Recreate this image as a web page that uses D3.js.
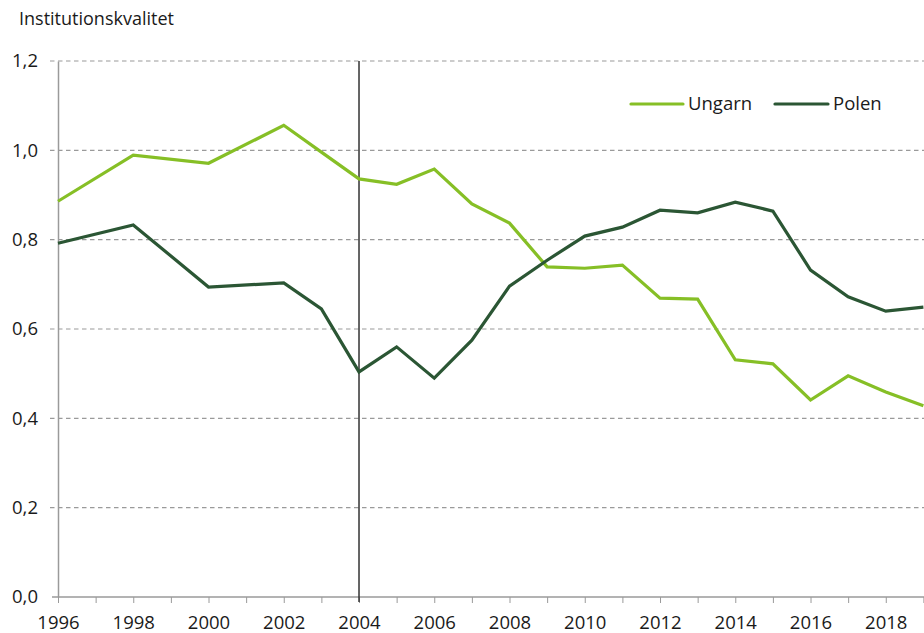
<!DOCTYPE html>
<html><head><meta charset="utf-8">
<script src="https://cdn.jsdelivr.net/npm/d3@7"></script>
<style>
body{margin:0;background:#fff;}
text{font-family:"Open Sans","Noto Sans",sans-serif;fill:#1a1a1a;}
</style></head>
<body><svg id="c" width="924" height="633"></svg>
<script>
const yearsUngarn = [1996,1998,2000,2002,2003,2004,2005,2006,2007,2008,2009,2010,2011,2012,2013,2014,2015,2016,2017,2018,2019];
const valuesUngarn = [0.886,0.989,0.971,1.056,0.996,0.936,0.924,0.958,0.880,0.837,0.739,0.736,0.743,0.669,0.667,0.531,0.522,0.441,0.495,0.459,0.428];
const yearsPolen = [1996,1998,2000,2002,2003,2004,2005,2006,2007,2008,2009,2010,2011,2012,2013,2014,2015,2016,2017,2018,2019];
const valuesPolen = [0.792,0.833,0.694,0.703,0.645,0.504,0.560,0.490,0.575,0.696,0.754,0.808,0.828,0.866,0.860,0.884,0.864,0.732,0.672,0.640,0.649];
const yTicks = [0,0.2,0.4,0.6,0.8,1.0,1.2];
const xLabelYears = [1996,1998,2000,2002,2004,2006,2008,2010,2012,2014,2016,2018];
const markerYear = 2004;
const seriesNames = ["Ungarn","Polen"];
const colors = ["#86bf26","#2b5634"];

const svg = d3.select("#c");
const x = d3.scaleLinear().domain([1996,2019]).range([58,923.4]);
const y = d3.scaleLinear().domain([0,1.2]).range([597,61]);
const fmt = v => d3.format(".1f")(v).replace(".",",");

// gridlines
svg.append("g").selectAll("line").data(yTicks.filter(d=>d>0)).join("line")
  .attr("x1",50).attr("x2",924).attr("y1",d=>y(d)).attr("y2",d=>y(d))
  .attr("stroke","#9a9a9a").attr("stroke-width",1.2).attr("stroke-dasharray","4.5,3.5");

// y axis
const yAxis = svg.append("g").attr("transform","translate(58,0)")
  .call(d3.axisLeft(y).tickValues(yTicks).tickFormat(fmt).tickSize(0).tickPadding(20));
yAxis.select(".domain").attr("stroke","#9a9a9a").attr("stroke-width",1.5);
yAxis.selectAll("text").attr("font-size",18.5).attr("fill","#1a1a1a").attr("font-family","Open Sans");

// x axis
const allYears = d3.range(1996,2020);
const xAxis = svg.append("g").attr("transform","translate(0,597)")
  .call(d3.axisBottom(x).tickValues(allYears).tickSize(6).tickSizeOuter(0).tickPadding(13)
    .tickFormat(d=>xLabelYears.includes(d)?String(d):""));
xAxis.select(".domain").attr("stroke","#9a9a9a").attr("stroke-width",1.5).attr("d","M52,0H924");
xAxis.selectAll(".tick line").attr("stroke","#9a9a9a");
xAxis.selectAll("text").attr("font-size",18.5).attr("fill","#1a1a1a").attr("font-family","Open Sans");

// vertical marker
svg.append("line").attr("x1",x(markerYear)).attr("x2",x(markerYear))
  .attr("y1",y(1.2)).attr("y2",602).attr("stroke","#333").attr("stroke-width",1.5);

// lines
const line = d3.line().x(d=>x(d[0])).y(d=>y(d[1]));
const data = [d3.zip(yearsUngarn,valuesUngarn), d3.zip(yearsPolen,valuesPolen)];
data.forEach((s,i)=>{
  svg.append("path").datum(s).attr("d",line).attr("fill","none")
    .attr("stroke",colors[i]).attr("stroke-width",3.2).attr("stroke-linejoin","miter");
});

// legend
const lg = [{x1:631,x2:683,tx:688},{x1:775,x2:828,tx:833}];
seriesNames.forEach((n,i)=>{
  svg.append("line").attr("x1",lg[i].x1).attr("x2",lg[i].x2).attr("y1",104).attr("y2",104)
    .attr("stroke",colors[i]).attr("stroke-width",3.2).attr("stroke-linecap","round");
  svg.append("text").attr("x",lg[i].tx).attr("y",110).attr("font-size",18.5).text(n);
});

// title
svg.append("text").attr("x",19).attr("y",25).attr("font-size",18).text("Institutionskvalitet");
</script></body></html>
